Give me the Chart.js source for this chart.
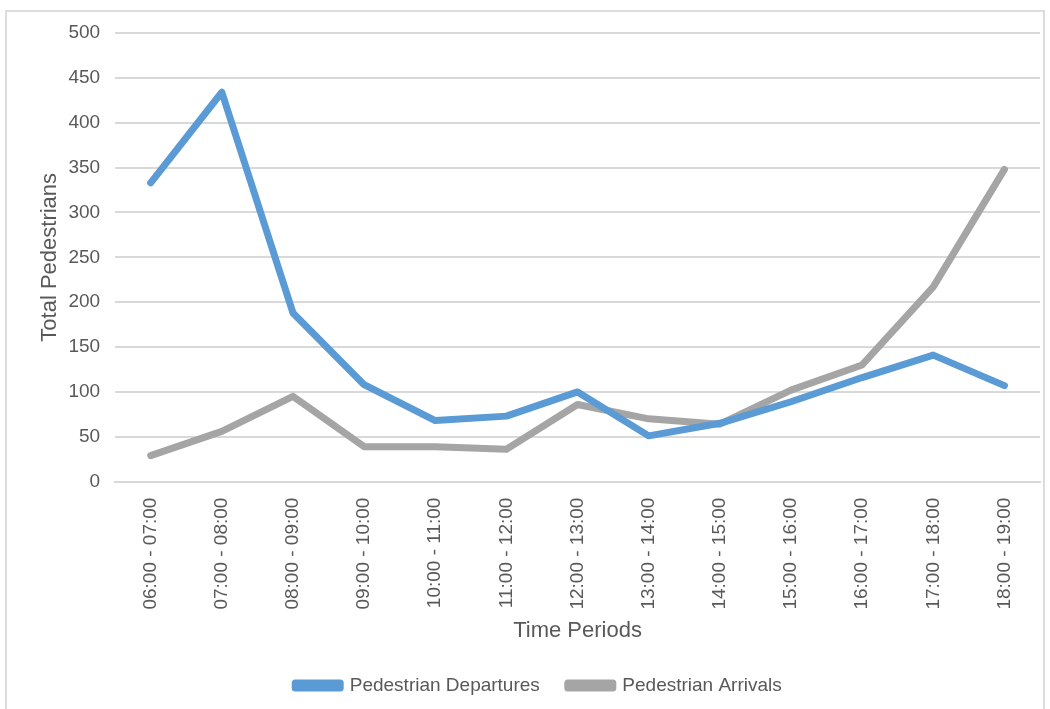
<!DOCTYPE html>
<html>
<head>
<meta charset="utf-8">
<script src="https://cdn.jsdelivr.net/npm/chart.js@4.4.1/dist/chart.umd.min.js"></script>
<style>
  html, body { margin: 0; padding: 0; background: #fff; }
  #wrap { position: relative; width: 1050px; height: 709px; }
  #frame { position: absolute; left: 5px; top: 10px; width: 1040px; height: 720px; border: 2px solid #dcdcdc; box-sizing: border-box; }
  canvas { position: absolute; left: 0; top: 0; }
</style>
</head>
<body>
<div id="wrap">
  <div id="frame"></div>
  <canvas id="chart" width="1050" height="709"></canvas>
</div>
<script>
const periods = ['06:00 - 07:00', '07:00 - 08:00', '08:00 - 09:00', '09:00 - 10:00', '10:00 - 11:00',
  '11:00 - 12:00', '12:00 - 13:00', '13:00 - 14:00', '14:00 - 15:00', '15:00 - 16:00',
  '16:00 - 17:00', '17:00 - 18:00', '18:00 - 19:00'];
const departures = [333, 434, 188, 108, 68, 73, 100, 51, 65, 89, 116, 141, 107];
const arrivals = [29, 56, 95, 39, 39, 36, 86, 70, 64, 102, 130, 217, 348];

const textColor = '#595959';
const family = '"Liberation Sans", Arial, sans-serif';
const tickFont = { family: family, size: 19 };

const ctx = document.getElementById('chart').getContext('2d');
new Chart(ctx, {
  type: 'line',
  data: {
    labels: periods,
    datasets: [
      {
        label: 'Pedestrian Departures',
        data: departures,
        borderColor: '#5B9BD5',
        backgroundColor: '#5B9BD5',
        borderWidth: 7,
        borderCapStyle: 'round',
        borderJoinStyle: 'round',
        pointRadius: 0,
        tension: 0,
      },
      {
        label: 'Pedestrian Arrivals',
        data: arrivals,
        borderColor: '#A5A5A5',
        backgroundColor: '#A5A5A5',
        borderWidth: 7,
        borderCapStyle: 'round',
        borderJoinStyle: 'round',
        pointRadius: 0,
        tension: 0,
      },
    ],
  },
  options: {
    responsive: false,
    animation: false,
    layout: { padding: { left: 37, right: 10, top: 33, bottom: 4 } },
    plugins: {
      legend: {
        position: 'bottom',
        labels: {
          color: textColor,
          font: { family: family, size: 19 },
          boxWidth: 45,
          boxHeight: 5,
          padding: 28,
        },
      },
      tooltip: { enabled: false },
    },
    scales: {
      x: {
        offset: true,
        grid: { display: false },
        border: { color: '#d9d9d9', width: 2 },
        ticks: { color: textColor, font: tickFont, minRotation: 90, maxRotation: 90, padding: 8 },
        title: { display: true, text: 'Time Periods', color: textColor, font: { family: family, size: 22 }, padding: { top: 0, bottom: 4 } },
      },
      y: {
        min: 0,
        max: 500,
        ticks: { stepSize: 50, color: textColor, font: tickFont, padding: 15 },
        grid: { color: '#d9d9d9', lineWidth: 2, drawTicks: false },
        border: { display: false },
        title: { display: true, text: 'Total Pedestrians', color: textColor, font: { family: family, size: 22 }, padding: 0 },
        afterFit: (scale) => { scale.width -= 10; },
      },
    },
  },
});
</script>
</body>
</html>
